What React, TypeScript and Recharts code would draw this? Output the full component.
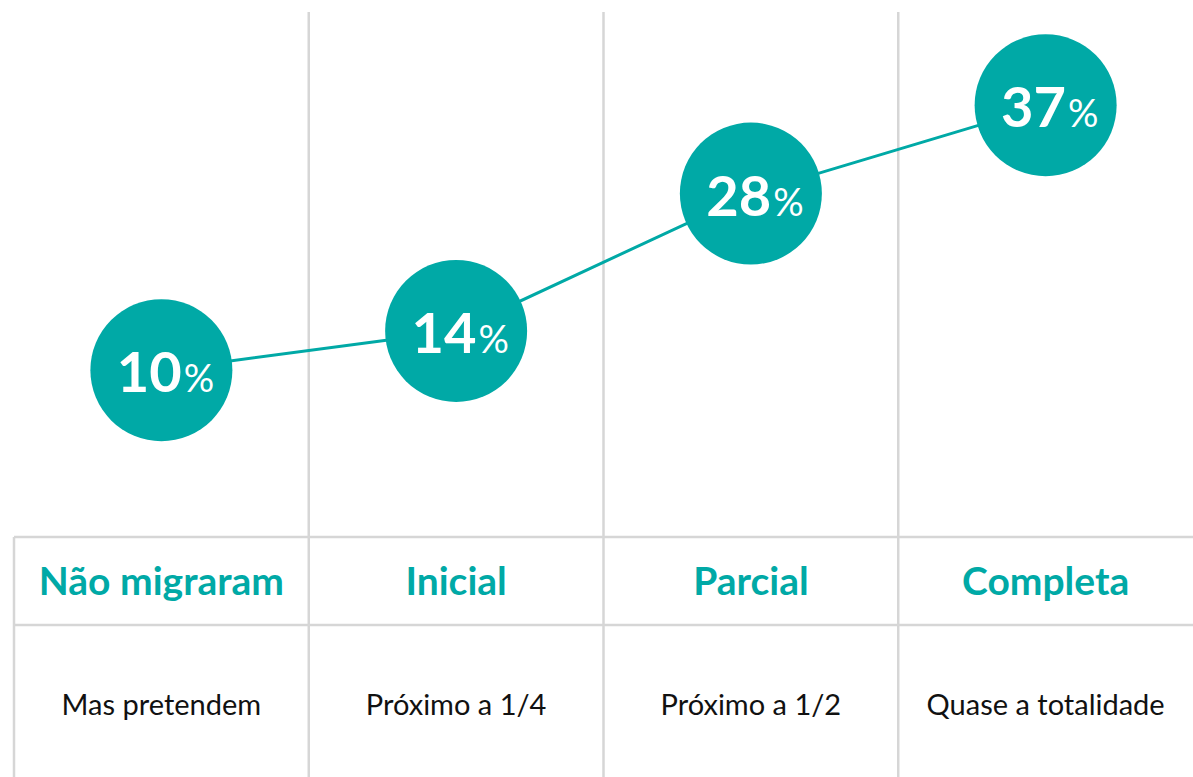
import { LineChart, Line, XAxis, YAxis, CartesianGrid } from "recharts";

const stages = ["Não migraram", "Inicial", "Parcial", "Completa"];
const details = ["Mas pretendem", "Próximo a 1/4", "Próximo a 1/2", "Quase a totalidade"];
const shares = [10, 14, 28, 37];

const data = stages.map((stage, i) => ({ stage, share: shares[i] }));

const W = 1193;
const H = 777;
const LEFT = 14;
const TOP = 12;
const TABLE_H = 240;
const BAND = (W - LEFT) / stages.length;
const TEAL = "#00A9A6";
const GRID = "#D6D6D6";
const FONT = "Lato, 'Open Sans', sans-serif";

function Bubble(props: any) {
  const { cx, cy, payload, index } = props;
  if (cx == null || cy == null) return null;
  return (
    <g key={`b-${index}`}>
      <circle cx={cx} cy={cy} r={71} fill={TEAL} />
      <text
        x={cx + 4}
        y={cy + 22}
        textAnchor="middle"
        fill="#fff"
        fontFamily={FONT}
      >
        <tspan fontSize={56} fontWeight={700}>
          {payload.share}
        </tspan>
        <tspan fontSize={38} fontWeight={400} dx={2}>
          %
        </tspan>
      </text>
    </g>
  );
}

function TableTick(props: any) {
  const { x, payload, index } = props;
  const top = H - TABLE_H;
  const rowSplit = top + 88;
  const left = x - BAND / 2;
  const right = x + BAND / 2;
  return (
    <g>
      {index === 0 && <line x1={left} x2={left} y1={top} y2={H} stroke={GRID} strokeWidth={2.5} />}
      {index < stages.length - 1 && (
        <line x1={right} x2={right} y1={top} y2={H} stroke={GRID} strokeWidth={2.5} />
      )}
      <line x1={left} x2={right} y1={rowSplit} y2={rowSplit} stroke={GRID} strokeWidth={2.5} />
      <text
        x={x}
        y={top + 58}
        textAnchor="middle"
        fill={TEAL}
        fontFamily={FONT}
        fontWeight={700}
        fontSize={39}
      >
        {payload.value}
      </text>
      <text
        x={x}
        y={top + 178}
        textAnchor="middle"
        fill="#111"
        fontFamily={FONT}
        fontSize={29}
      >
        {details[index]}
      </text>
    </g>
  );
}

// column boundaries between the bands
const bandEdges = ({ offset }: any) =>
  stages.slice(1).map((_, i) => offset.left + ((i + 1) * offset.width) / stages.length);

export default function App() {
  return (
    <div style={{ position: "absolute", left: 0, top: 0, width: W, height: H, background: "#fff" }}>
      <LineChart
        width={W}
        height={H}
        data={data}
        margin={{ top: TOP, right: 0, left: LEFT, bottom: 0 }}
      >
        <CartesianGrid
          horizontal={false}
          verticalCoordinatesGenerator={bandEdges}
          stroke={GRID}
          strokeWidth={2.5}
        />
        <XAxis
          dataKey="stage"
          scale="band"
          height={TABLE_H}
          axisLine={{ stroke: GRID, strokeWidth: 2.5 }}
          tickLine={false}
          interval={0}
          tick={<TableTick />}
        />
        <YAxis domain={[-7, 46.5]} allowDataOverflow hide />
        <Line
          dataKey="share"
          stroke={TEAL}
          strokeWidth={3}
          dot={<Bubble />}
          activeDot={false}
          isAnimationActive={false}
        />
      </LineChart>
    </div>
  );
}
